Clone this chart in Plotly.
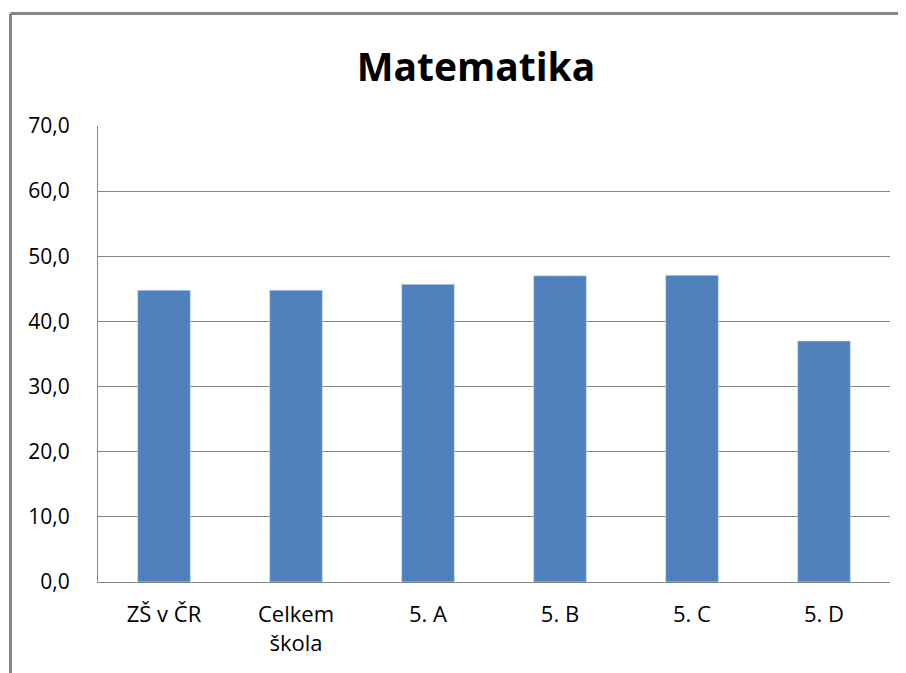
import plotly.graph_objects as go

categories = ["ZŠ v ČR", "Celkem<br>škola", "5. A", "5. B", "5. C", "5. D"]
values = [44.8, 44.8, 45.7, 47.0, 47.1, 37.0]
y_ticks = [0, 10, 20, 30, 40, 50, 60, 70]
y_tick_labels = ["0,0", "10,0", "20,0", "30,0", "40,0", "50,0", "60,0", "70,0"]

W, H = 906, 673
L, R, T, B = 90, 24, 118, 99
pw, ph = W - L - R, H - T - B

fig = go.Figure(go.Bar(x=categories, y=values, marker_color="#4F81BD", width=0.40))

bx = (2.5 - L) / pw
by = 1 + (T - 5.5) / ph
fig.add_shape(type="line", xref="paper", yref="paper", x0=bx, x1=bx, y0=-0.5, y1=by,
              line=dict(color="#868686", width=3))
fig.add_shape(type="line", xref="paper", yref="paper", x0=bx, x1=1.2, y0=by, y1=by,
              line=dict(color="#868686", width=3))

fig.update_layout(
    width=W, height=H,
    margin=dict(l=L, r=R, t=T, b=B),
    paper_bgcolor="white", plot_bgcolor="white",
    title=dict(text="<b>Matematika</b>", x=(468 - L) / pw, xanchor="center",
               xref="paper", y=1 - 59 / H, yanchor="middle",
               font=dict(family="Open Sans, Liberation Sans, sans-serif", size=39, color="black")),
    font=dict(family="Open Sans, Liberation Sans, sans-serif", size=21, color="black"),
    showlegend=False,
)
fig.update_xaxes(showline=True, linecolor="#868686", linewidth=1, ticks="", showgrid=False,
                 tickfont=dict(size=22), ticklabelstandoff=13)
fig.update_yaxes(range=[0, 70], tickvals=y_ticks, ticktext=y_tick_labels, showgrid=True,
                 gridcolor="#868686", gridwidth=1, showline=True, linecolor="#868686",
                 linewidth=1, ticks="", tickfont=dict(size=21), zeroline=False,
                 ticklabelstandoff=23)

fig.write_html("out.html")
